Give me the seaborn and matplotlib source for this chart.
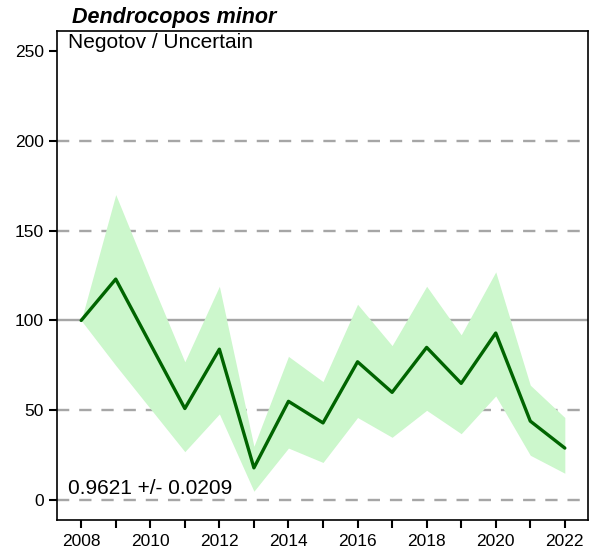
import matplotlib
matplotlib.use("Agg")
import matplotlib.pyplot as plt
import seaborn as sns
import pandas as pd

years = [2008, 2009, 2010, 2011, 2012, 2013, 2014, 2015, 2016, 2017, 2018, 2019, 2020, 2021, 2022]
index = [100, 123, 87, 51, 84, 18, 55, 43, 77, 60, 85, 65, 93, 44, 29]
upper = [100, 170, 123, 77, 119, 30, 80, 66, 109, 86, 119, 92, 127, 64, 46]
lower = [100, 75, 51, 27, 48, 5, 29, 21, 46, 35, 50, 37, 58, 25, 15]
species = "Dendrocopos minor"
subtitle = "Negotov / Uncertain"
trend_text = "0.9621 +/- 0.0209"
yticks = [0, 50, 100, 150, 200, 250]
xticklabels = [2008, 2010, 2012, 2014, 2016, 2018, 2020, 2022]

df = pd.DataFrame({"year": years, "index": index, "upper": upper, "lower": lower})

sns.set_style("ticks")
plt.rcParams["font.family"] = ["Liberation Sans", "DejaVu Sans"]
plt.rcParams["text.color"] = "black"

fig = plt.figure(figsize=(5.92, 5.55), dpi=100)
ax = fig.add_axes([0.0963, 0.0631, 0.8969, 0.881])

for y in [0, 50, 150, 200]:
    ax.axhline(y, color="#a6a6a6", lw=1.7, ls=(0, (5.2, 4.2)), zorder=1)
ax.axhline(100, color="#a6a6a6", lw=1.7, zorder=1)

ax.fill_between(df["year"], df["lower"], df["upper"], color="#ccf7cc", lw=0, zorder=2)
sns.lineplot(data=df, x="year", y="index", color="#006400", lw=2.4, ax=ax, zorder=3)

ax.set_xlim(2007.3, 2022.67)
ax.set_ylim(-11, 261)
ax.set_xticks(years)
ax.set_xticklabels([str(y) if y in xticklabels else "" for y in years])
ax.set_yticks(yticks)
ax.set_yticklabels([str(v) for v in yticks])
ax.tick_params(axis="both", direction="out", length=6, width=1.5, labelsize=12.5,
               colors="black", labelcolor="black")
ax.tick_params(axis="x", pad=4)
ax.set_xlabel("")
ax.set_ylabel("")
for s in ax.spines.values():
    s.set_visible(True)
    s.set_linewidth(1.2)
    s.set_color("black")

fig.text(0.115, 1 - 42 / 555, subtitle, ha="left", va="center", fontsize=15, color="black")
fig.text(0.115, 1 - 489 / 555, trend_text, ha="left", va="center", fontsize=15, color="black")
fig.text(0.122, 1 - 18 / 555, species, ha="left", va="center", fontsize=15.5,
         fontweight="bold", fontstyle="italic", color="black")

fig.savefig("out.png", dpi=100)
